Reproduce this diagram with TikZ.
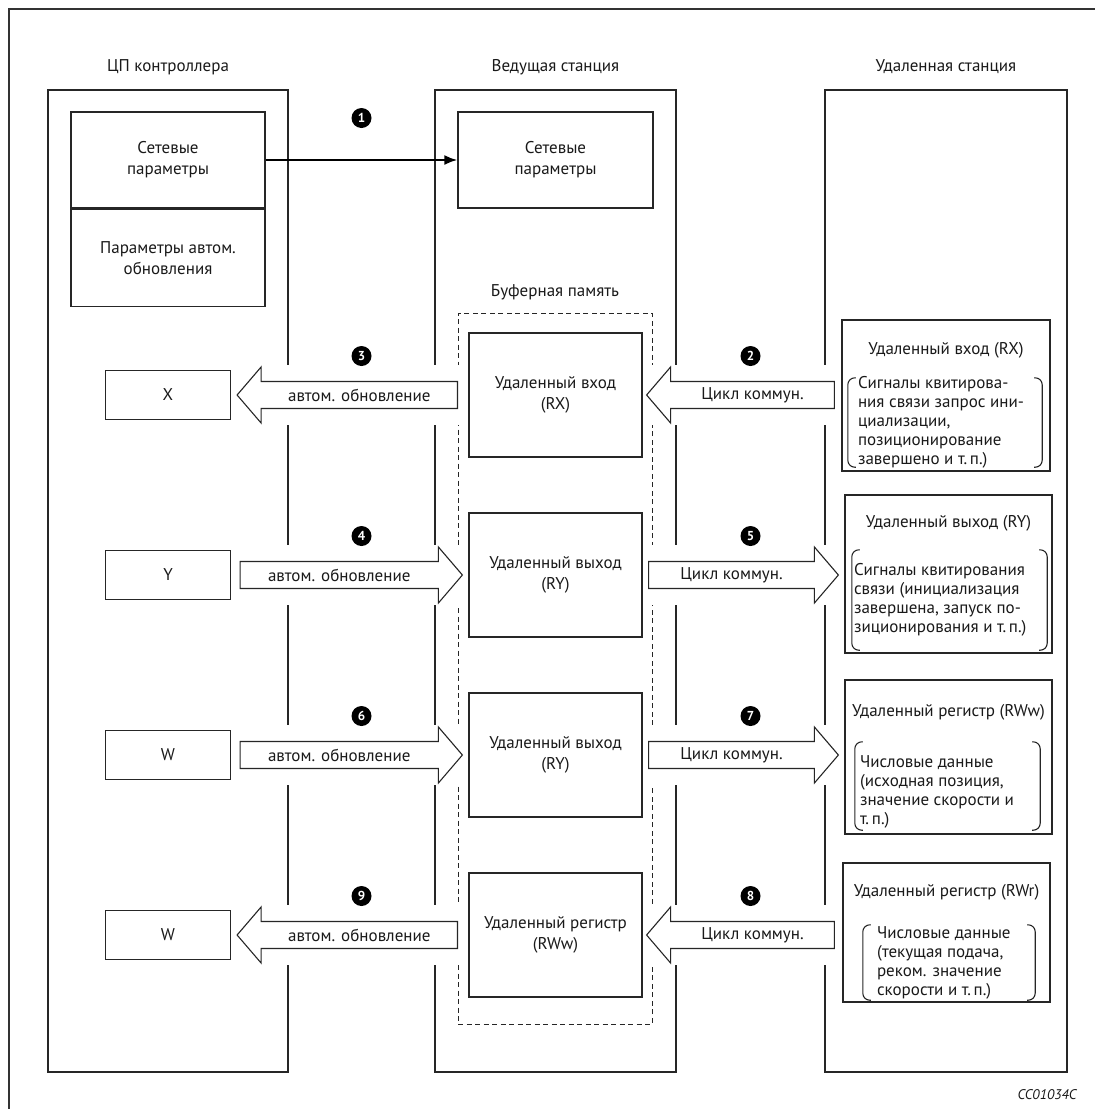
\documentclass[tikz,border=0pt]{standalone}
\usepackage{fontspec}
\setmainfont{PT Sans}
\usetikzlibrary{positioning,arrows.meta,calc}

% wide hollow arrow: tail, tip, label
\newcommand{\flowarrow}[3]{%
  \fill[white] let \p1=(#1), \p2=(#2) in
    ({min(\x1,\x2)-2pt},\y1+30pt) rectangle ({max(\x1,\x2)+2pt},\y1-30pt);
  \draw[fatarrow] let \p1=(#1), \p2=(#2), \n1={ifthenelse(\x2>\x1,1,-1)} in
    (\x1,\y1+13.5pt) -- ({\x2-\n1*24pt},\y1+13.5pt) -- ({\x2-\n1*24pt},\y1+28pt) -- (\x2,\y1)
    -- ({\x2-\n1*24pt},\y1-28pt) -- ({\x2-\n1*24pt},\y1-13.5pt) -- (\x1,\y1-13.5pt) -- cycle
    ({(\x1+\x2)/2-\n1*12pt},\y1) node {#3};
}
% round brackets along the sides of a node
\newcommand{\parens}[1]{%
  \draw[bracket] ($(#1.north west)+(8,0)$) -- (#1.north west) -- (#1.south west) -- ($(#1.south west)+(8,0)$);
  \draw[bracket] ($(#1.north east)+(-8,0)$) -- (#1.north east) -- (#1.south east) -- ($(#1.south east)+(-8,0)$);
}

\begin{document}
\begin{tikzpicture}[x=1pt, y=-1pt,
    every node/.style={font=\fontsize{17}{21}\selectfont, text=black!90},
    column/.style={draw=black!85, line width=1.3pt, minimum width=241, minimum height=982, inner sep=0},
    parbox/.style={draw=black!85, line width=1.2pt, minimum width=194, minimum height=96, align=center, inner sep=0},
    membox/.style={draw=black!85, line width=1.2pt, minimum width=173, minimum height=124, align=center, inner sep=0},
    devbox/.style={draw=black!85, line width=1.2pt, minimum width=125, minimum height=49, inner sep=0},
    rembox/.style={draw=black!85, line width=1.2pt, inner sep=0},
    brk/.style={inner sep=0},
    bracket/.style={draw=black!85, line width=1.1pt, rounded corners=7pt},
    remtext/.style={anchor=west, align=left, inner sep=0, font=\fontsize{17}{19}\selectfont},
    fatarrow/.style={draw=black!85, line width=1.1pt, fill=white},
    badge/.style={circle, fill=black, text=white, inner sep=0, minimum size=20,
                  font=\bfseries\fontsize{13}{13}\selectfont}]
    \useasboundingbox (0,0) rectangle (1095,1109);

    % page frame
    \draw[black!80, line width=1.5pt] (9,1109) -- (9,9) -- (1095,9);

    % stations
    \node[column, minimum width=240] (cpu) at (168,581) {};
    \node[column] (master) at (555.5,581) {};
    \node[column, minimum width=242] (remote) at (946,581) {};
    \node (cputitle) at (168,67) {ЦП контроллера};
    \node (mastertitle) at (555.5,67) {Ведущая станция};
    \node (remotetitle) at (946,67) {Удаленная станция};

    % parameters
    \node[parbox] (netcpu) at (168,160) {Сетевые\\параметры};
    \node[parbox, minimum height=97, below=0 of netcpu] (autocpu) {Параметры автом.\\обновления};
    \node[parbox, minimum width=195] (netmaster) at (555.5,160) {Сетевые\\параметры};
    \draw[-{Latex[length=13,width=10]}, line width=2.2pt] (netcpu.east) -- (netmaster.west);

    % buffer memory
    \node (buflabel) at (555,292) {Буферная память};
    \node[draw=black!85, line width=1pt, dash pattern=on 5pt off 3.5pt, minimum width=194, minimum height=711, inner sep=0] (buffer) at (555,668.5) {};
    \node[membox] (rx) at (555.5,395) {Удаленный вход\\(RX)};
    \node[membox] (ry) at (555.5,575) {Удаленный выход\\(RY)};
    \node[membox] (ryb) at (555.5,755) {Удаленный выход\\(RY)};
    \node[membox] (rww) at (555.5,935) {Удаленный регистр\\(RWw)};

    % CPU devices
    \node[devbox] (xdev) at (168,395) {X};
    \node[devbox] (ydev) at (168,575) {Y};
    \node[devbox] (wdev) at (168,755) {W};
    \node[devbox] (wdevb) at (168,935) {W};

    % remote station
    \node[rembox, minimum width=208, minimum height=151] (rmrx) at (946,395.5) {};
    \node (rmrxt) at (946,350) {Удаленный вход (RX)};
    \node[brk, minimum width=194, minimum height=89] (rmrxb) at (945,422.5) {};
    \node[remtext] (rmrxs) at ($(rmrxb.west)+(10,0)$) {Сигналы квитирова-\\ния связи запрос ини-\\циализации,\\позиционирование\\завершено и т.\,п.)};
    \parens{rmrxb}

    \node[rembox, minimum width=207, minimum height=158] (rmry) at (948.5,574) {};
    \node (rmryt) at (948.5,523) {Удаленный выход (RY)};
    \node[brk, minimum width=195, minimum height=100] (rmryb) at (949.5,600) {};
    \node[remtext] (rmrys) at ($(rmryb.west)+(2,0)$) {Сигналы квитирования\\связи (инициализация\\завершена, запуск по-\\зиционирования и т.\,п.)};
    \parens{rmryb}

    \node[rembox, minimum width=207, minimum height=154] (rmrww) at (948.5,757) {};
    \node (rmrwwt) at (948.5,712) {Удаленный регистр (RWw)};
    \node[brk, minimum width=185, minimum height=88] (rmrwwb) at (947.5,786) {};
    \node[remtext] (rmrwws) at ($(rmrwwb.west)+(5,6)$) {Числовые данные\\(исходная позиция,\\значение скорости и\\т.\,п.)};
    \parens{rmrwwb}

    \node[rembox, minimum width=207, minimum height=139] (rmrwr) at (946.5,932.5) {};
    \node (rmrwrt) at (946.5,892) {Удаленный регистр (RWr)};
    \node[brk, minimum width=172, minimum height=75] (rmrwrb) at (949,962.5) {};
    \node[remtext] (rmrwrs) at ($(rmrwrb.west)+(14,0)$) {Числовые данные\\(текущая подача,\\реком. значение\\скорости и т.\,п.)};
    \parens{rmrwrb}

    % refresh and link scan
    \flowarrow{buffer.west |- rx}{$(xdev.east)+(6,0)$}{автом. обновление}
    \flowarrow{$(ydev.east)+(9,0)$}{$(ry.west)+(-6,0)$}{автом. обновление}
    \flowarrow{$(wdev.east)+(9,0)$}{$(ryb.west)+(-6,0)$}{автом. обновление}
    \flowarrow{buffer.west |- rww}{$(wdevb.east)+(6,0)$}{автом. обновление}
    \flowarrow{$(remote.west |- rx)+(10,0)$}{$(rx.east)+(4,0)$}{Цикл коммун.}
    \flowarrow{$(ry.east)+(6,0)$}{$(rmry.west |- ry)+(-6,0)$}{Цикл коммун.}
    \flowarrow{$(ryb.east)+(6,0)$}{$(rmrww.west |- ryb)+(-6,0)$}{Цикл коммун.}
    \flowarrow{$(remote.west |- rww)+(10,0)$}{$(rww.east)+(4,0)$}{Цикл коммун.}

    % step numbers
    \node[badge] (b1) at ($(netcpu.east)!0.5!(netmaster.west)+(0,-42)$) {1};
    \node[badge] (b2) at ($(master.east |- rx)!0.5!(remote.west |- rx)+(0,-39)$) {2};
    \node[badge] (b3) at ($(cpu.east |- rx)!0.5!(master.west |- rx)+(0,-39)$) {3};
    \node[badge] (b4) at ($(cpu.east |- ry)!0.5!(master.west |- ry)+(0,-39)$) {4};
    \node[badge] (b5) at ($(master.east |- ry)!0.5!(remote.west |- ry)+(0,-39)$) {5};
    \node[badge] (b6) at ($(cpu.east |- ryb)!0.5!(master.west |- ryb)+(0,-39)$) {6};
    \node[badge] (b7) at ($(master.east |- ryb)!0.5!(remote.west |- ryb)+(0,-39)$) {7};
    \node[badge] (b8) at ($(master.east |- rww)!0.5!(remote.west |- rww)+(0,-39)$) {8};
    \node[badge] (b9) at ($(cpu.east |- rww)!0.5!(master.west |- rww)+(0,-39)$) {9};

    \node[anchor=east, font=\itshape\fontsize{14}{16}\selectfont] (code) at (1080,1095) {CC01034C};
\end{tikzpicture}
\end{document}
